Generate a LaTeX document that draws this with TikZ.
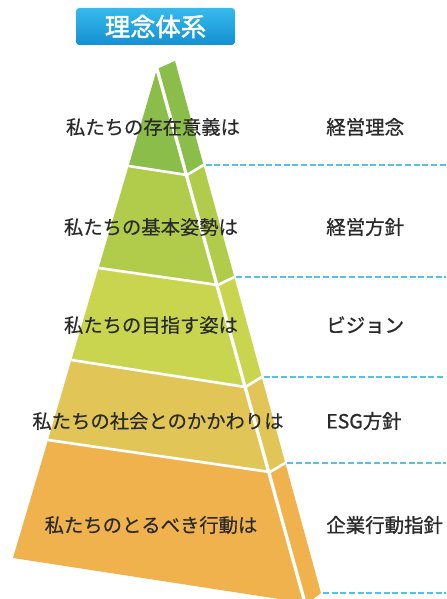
\documentclass[tikz,border=0pt]{standalone}
\usepackage{fontspec}
\usetikzlibrary{calc}
\setmainfont{Noto Sans CJK JP}
\newfontfamily\jpleft[FakeBold=0.3]{Noto Sans CJK JP}
\newfontfamily\jpright[FakeBold=1.0]{Noto Sans CJK JP}
\newfontfamily\jptitle[FakeBold=1.6]{Noto Sans CJK JP}
\definecolor{cA}{HTML}{8BBD4B}
\definecolor{cB}{HTML}{B1CB4B}
\definecolor{cC}{HTML}{C9D44F}
\definecolor{cD}{HTML}{E1C556}
\definecolor{cE}{HTML}{F0B24D}
\definecolor{guide}{HTML}{52C2EA}
\definecolor{ink}{HTML}{2A2A2A}
\definecolor{titletop}{HTML}{36BAEC}
\definecolor{titlebot}{HTML}{1490D1}
\tikzset{
  lbl/.style={text=ink,font=\jpleft\fontsize{14.5pt}{17pt}\selectfont,inner sep=0pt},
  rlbl/.style={text=ink,font=\jpright\fontsize{14.6pt}{17pt}\selectfont,inner sep=0pt,anchor=west},
  gapline/.style={white,line width=2.5pt,line join=round},
  divline/.style={white,line width=2pt,line join=round},
  guideline/.style={guide,line width=1pt,dash pattern=on 4.5pt off 2pt},
}
\begin{document}
\begin{tikzpicture}[x=0.75pt,y=-0.75pt]
\useasboundingbox (0,0) rectangle (446,599);
\clip (0,0) rectangle (446,599);
% key points
\coordinate (P0) at (157,69);
\coordinate (P1) at (128.6,166);
\coordinate (P2) at (98.6,268);
\coordinate (P3) at (71.4,360);
\coordinate (P4) at (48,440);
\coordinate (P5) at (13,558);
\coordinate (G0) at (157,69);
\coordinate (G1) at (187,175);
\coordinate (G2) at (218,285);
\coordinate (G3) at (245.5,387);
\coordinate (G4) at (270,472);
\coordinate (G5) at (305,603);
\coordinate (S0) at (175,61);
\coordinate (S1) at (203.5,165);
\coordinate (S2) at (234.3,277);
\coordinate (S3) at (261.7,377);
\coordinate (S4) at (285.3,463);
\coordinate (S5) at (321,593);
\coordinate (B5) at (308,603);
% front face bands
\fill[cA] (P0) -- (G1) -- (P1) -- cycle;
\fill[cB] (P1) -- (G1) -- (G2) -- (P2) -- cycle;
\fill[cC] (P2) -- (G2) -- (G3) -- (P3) -- cycle;
\fill[cD] (P3) -- (G3) -- (G4) -- (P4) -- cycle;
\fill[cE] (P4) -- (G4) -- (G5) -- (P5) -- cycle;
% side face bands
\fill[cA] (G0) -- (S0) -- (S1) -- (G1) -- cycle;
\fill[cB] (G1) -- (S1) -- (S2) -- (G2) -- cycle;
\fill[cC] (G2) -- (S2) -- (S3) -- (G3) -- cycle;
\fill[cD] (G3) -- (S3) -- (S4) -- (G4) -- cycle;
\fill[cE] (G4) -- (S4) -- (S5) -- (B5) -- (G5) -- cycle;
% white separations
\draw[divline] (P1) -- (G1) -- (S1);
\draw[divline] (P2) -- (G2) -- (S2);
\draw[divline] (P3) -- (G3) -- (S3);
\draw[divline] (P4) -- (G4) -- (S4);
\draw[gapline] ($(G0)!-0.01!(G5)$) -- (G5);
% guide lines
\coordinate (E1) at (446,165);
\coordinate (E2) at (446,277);
\coordinate (E3) at (446,377);
\coordinate (E4) at (446,463);
\coordinate (E5) at (446,593);
\foreach \i in {1,...,5}{
  \draw[guideline] ([xshift=1.5pt]S\i) -- (E\i);
}
% title
\node[rounded corners=2.5pt,top color=titletop,bottom color=titlebot,
  minimum width=119.25pt,minimum height=27.75pt,inner sep=0pt,
  text=white,font=\jptitle\fontsize{19pt}{22pt}\selectfont] (title) at (155.5,26.5) {理念体系};
% labels
\node[lbl] (l1) at (153,127) {私たちの存在意義は};
\node[lbl] (l2) at (151,227) {私たちの基本姿勢は};
\node[lbl] (l3) at (151,325) {私たちの目指す姿は};
\node[lbl] (l4) at (158,421) {私たちの社会とのかかわりは};
\node[lbl] (l5) at (151,525) {私たちのとるべき行動は};
\node[rlbl] (r1) at (326,127) {経営理念};
\node[rlbl] (r2) at (326,227) {経営方針};
\node[rlbl] (r3) at (326,325) {ビジョン};
\node[rlbl] (r4) at (326,421) {ESG方針};
\node[rlbl] (r5) at (326,525) {企業行動指針};
\end{tikzpicture}
\end{document}
